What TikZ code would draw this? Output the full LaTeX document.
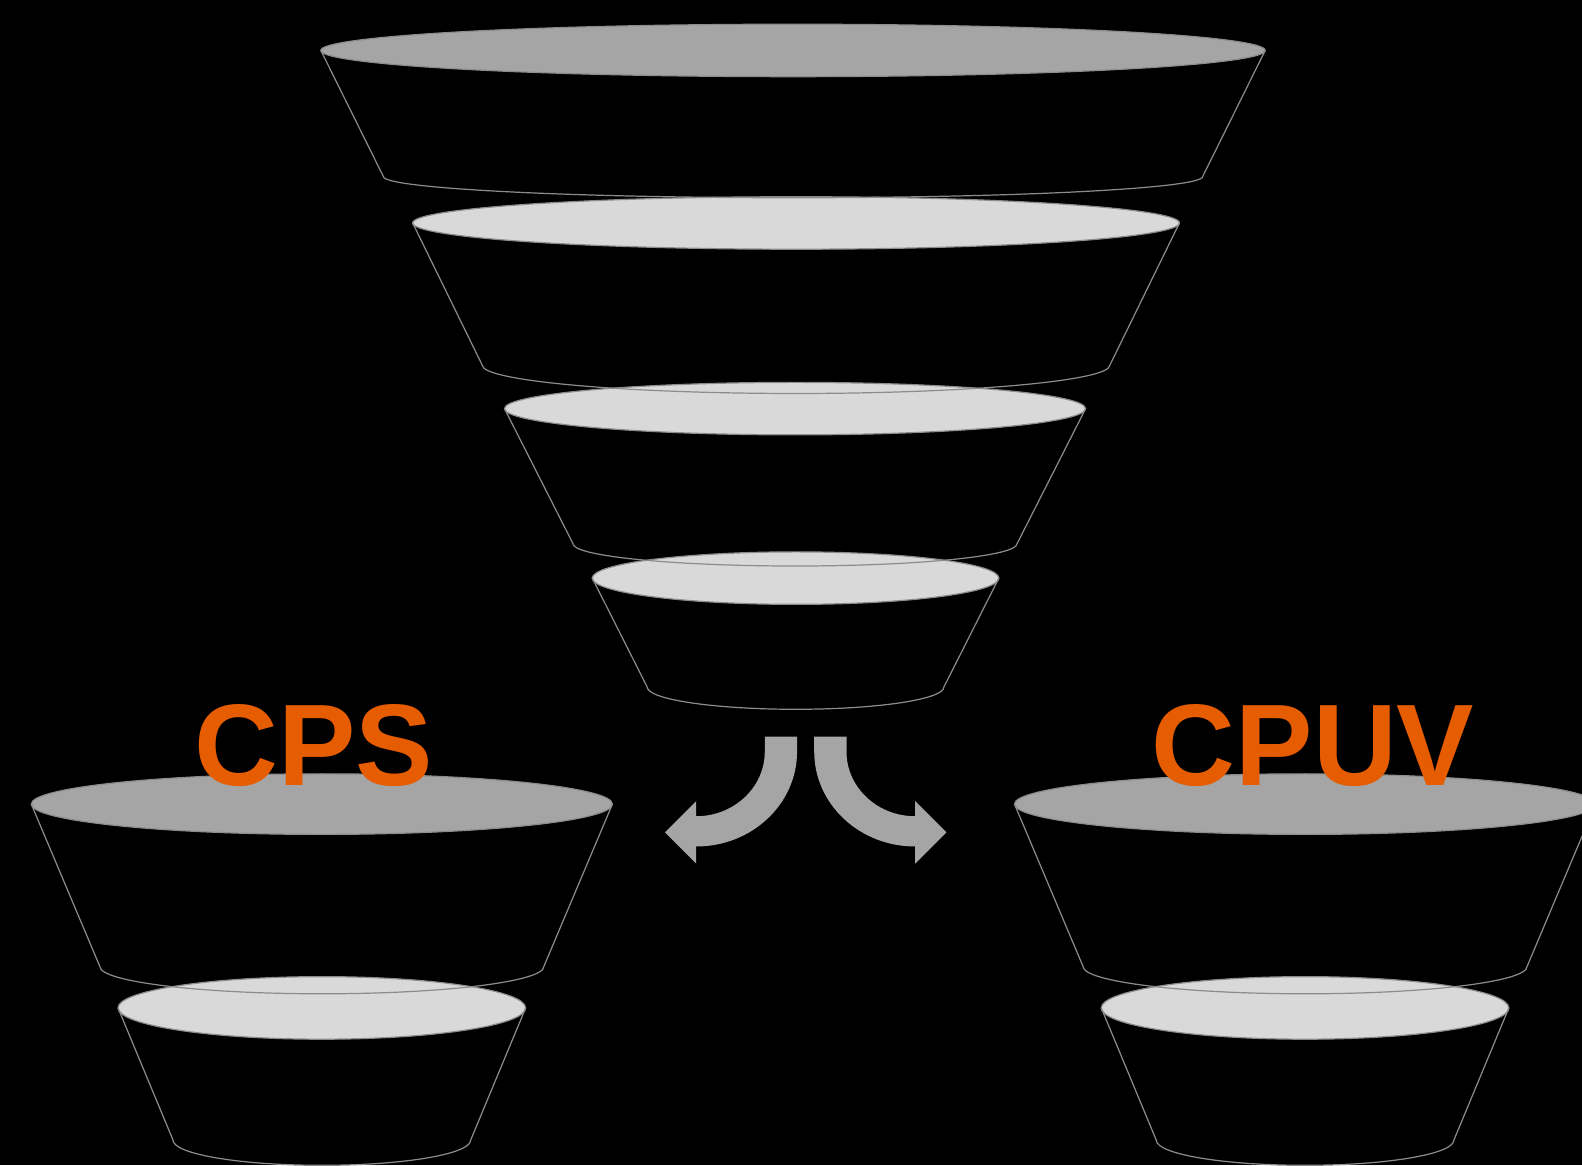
\documentclass[tikz,border=0pt]{standalone}
\usepackage{fontspec}
\setmainfont{Liberation Sans}
\definecolor{darkgr}{HTML}{A5A5A5}
\definecolor{lightgr}{HTML}{D9D9D9}
\definecolor{edgegr}{HTML}{8C8C8C}
\definecolor{orng}{HTML}{E65C00}
\tikzset{
  rim/.style={draw=edgegr, line width=0.6pt},
  blockarrow/.style={fill=darkgr, draw=none},
  label/.style={text=orng, font=\fontsize{57.5}{58}\selectfont\bfseries, anchor=base, inner sep=0pt}
}
% cx cy rx ry fill
\newcommand\segtop[5]{\filldraw[rim, fill=#5] (#1,#2) ellipse [x radius=#3, y radius=#4];}
% cx cy rx bottomy brx bry
\newcommand\segbody[6]{\draw[rim] (#1-#3,#2) -- (#1-#5,#4) arc[start angle=180,end angle=0,x radius=#5,y radius=#6] -- (#1+#3,#2);}
\begin{document}
\begin{tikzpicture}[x=0.5pt,y=-0.5pt]
\fill[black] (0,0) rectangle (1568,1155);
\useasboundingbox (0,0) rectangle (1568,1155);
\clip (0,0) rectangle (1568,1155);
% top funnel tops
\segtop{786}{50}{468}{26}{darkgr}
\segtop{789}{221}{380}{26}{lightgr}
\segtop{788}{405}{288}{26}{lightgr}
\segtop{788.5}{573}{201.5}{26}{lightgr}
% left funnel tops
\segtop{319}{797}{288}{30}{darkgr}
\segtop{319}{999}{202}{31}{lightgr}
% right funnel tops
\segtop{1293.5}{797}{288}{30}{darkgr}
\segtop{1293.5}{999}{202}{31}{lightgr}
% bodies
\segbody{786}{50}{468}{175}{406}{21}
\segbody{789}{221}{380}{362}{311}{28}
\segbody{788}{405}{288}{539}{220}{22}
\segbody{788.5}{573}{201.5}{681}{147}{22}
\segbody{319}{797}{288}{958}{220}{27}
\segbody{319}{999}{202}{1130}{147.5}{25}
\segbody{1293.5}{797}{288}{958}{220}{27}
\segbody{1293.5}{999}{202}{1130}{147.5}{25}
% labels
\node[label] (cps) at (311,779) {CPS};
\node[label] (cpuv) at (1301.5,779) {CPUV};
% curved arrows
\fill[blockarrow] (790,730) -- (790,745) arc[start angle=0,end angle=90,x radius=100,y radius=94]
  -- (690,856) -- (659,825) -- (690,794) -- (690,809)
  arc[start angle=90,end angle=0,x radius=68,y radius=64] -- (758,730) -- cycle;
\fill[blockarrow] (807,730) -- (807,745) arc[start angle=180,end angle=90,x radius=100,y radius=94]
  -- (907,856) -- (938,825) -- (907,794) -- (907,809)
  arc[start angle=90,end angle=180,x radius=68,y radius=64] -- (839,730) -- cycle;
\end{tikzpicture}
\end{document}
